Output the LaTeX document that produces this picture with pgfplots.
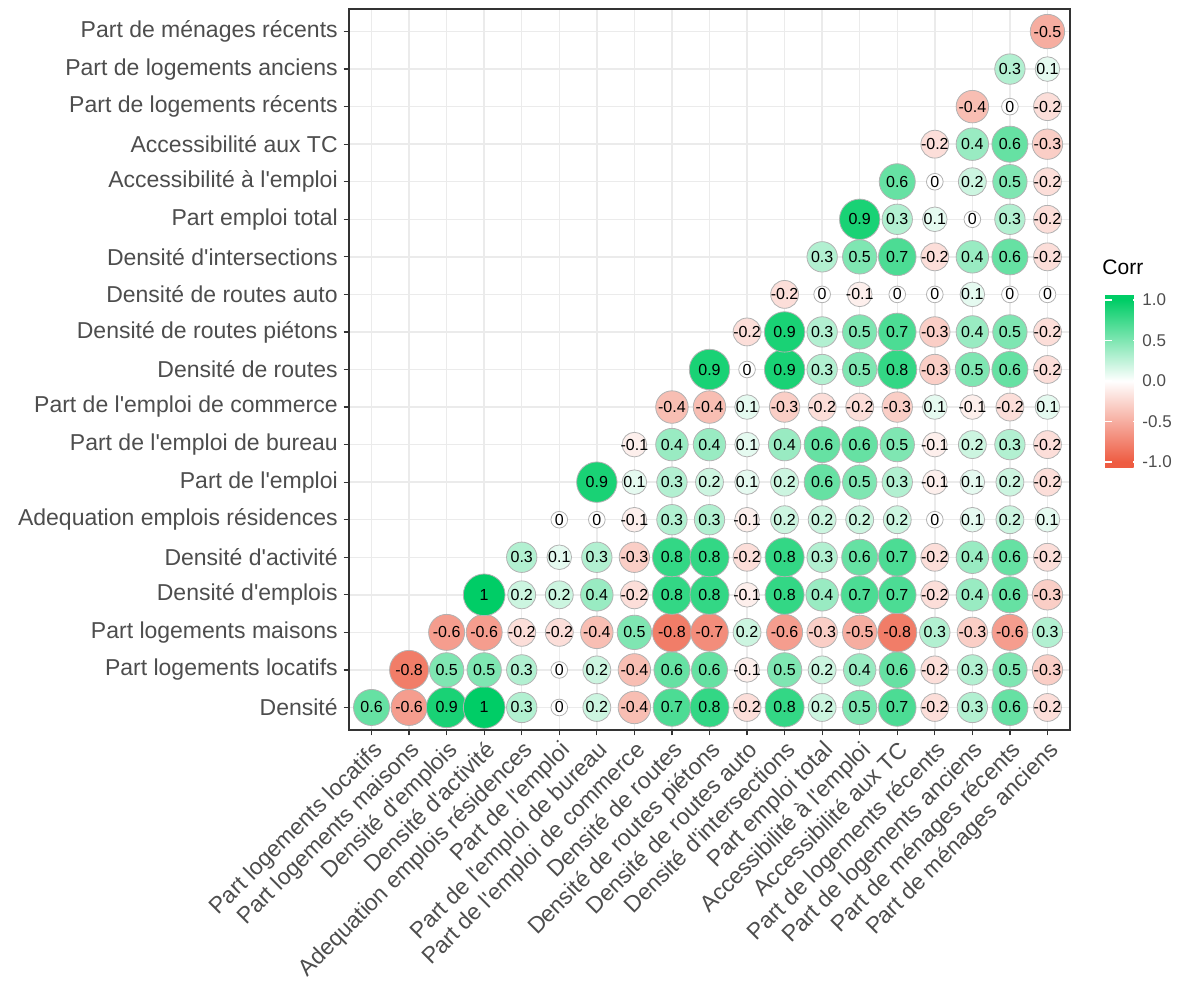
\documentclass[border=0pt]{standalone}
\usepackage{pgfplots}
\pgfplotsset{compat=1.18}
\usepackage{pgfplotstable}
\usepackage{fontspec}
\setmainfont{Liberation Sans}[Ligatures=TeXOff]
\definecolor{gridc}{RGB}{235,235,235}
\definecolor{txt}{RGB}{77,77,77}
\definecolor{bord}{RGB}{51,51,51}

\pgfplotstableread{
x y v
1 1 0.6
2 1 -0.6
3 1 0.9
4 1 1
5 1 0.3
6 1 0
7 1 0.2
8 1 -0.4
9 1 0.7
10 1 0.8
11 1 -0.2
12 1 0.8
13 1 0.2
14 1 0.5
15 1 0.7
16 1 -0.2
17 1 0.3
18 1 0.6
19 1 -0.2
2 2 -0.8
3 2 0.5
4 2 0.5
5 2 0.3
6 2 0
7 2 0.2
8 2 -0.4
9 2 0.6
10 2 0.6
11 2 -0.1
12 2 0.5
13 2 0.2
14 2 0.4
15 2 0.6
16 2 -0.2
17 2 0.3
18 2 0.5
19 2 -0.3
3 3 -0.6
4 3 -0.6
5 3 -0.2
6 3 -0.2
7 3 -0.4
8 3 0.5
9 3 -0.8
10 3 -0.7
11 3 0.2
12 3 -0.6
13 3 -0.3
14 3 -0.5
15 3 -0.8
16 3 0.3
17 3 -0.3
18 3 -0.6
19 3 0.3
4 4 1
5 4 0.2
6 4 0.2
7 4 0.4
8 4 -0.2
9 4 0.8
10 4 0.8
11 4 -0.1
12 4 0.8
13 4 0.4
14 4 0.7
15 4 0.7
16 4 -0.2
17 4 0.4
18 4 0.6
19 4 -0.3
5 5 0.3
6 5 0.1
7 5 0.3
8 5 -0.3
9 5 0.8
10 5 0.8
11 5 -0.2
12 5 0.8
13 5 0.3
14 5 0.6
15 5 0.7
16 5 -0.2
17 5 0.4
18 5 0.6
19 5 -0.2
6 6 0
7 6 0
8 6 -0.1
9 6 0.3
10 6 0.3
11 6 -0.1
12 6 0.2
13 6 0.2
14 6 0.2
15 6 0.2
16 6 0
17 6 0.1
18 6 0.2
19 6 0.1
7 7 0.9
8 7 0.1
9 7 0.3
10 7 0.2
11 7 0.1
12 7 0.2
13 7 0.6
14 7 0.5
15 7 0.3
16 7 -0.1
17 7 0.1
18 7 0.2
19 7 -0.2
8 8 -0.1
9 8 0.4
10 8 0.4
11 8 0.1
12 8 0.4
13 8 0.6
14 8 0.6
15 8 0.5
16 8 -0.1
17 8 0.2
18 8 0.3
19 8 -0.2
9 9 -0.4
10 9 -0.4
11 9 0.1
12 9 -0.3
13 9 -0.2
14 9 -0.2
15 9 -0.3
16 9 0.1
17 9 -0.1
18 9 -0.2
19 9 0.1
10 10 0.9
11 10 0
12 10 0.9
13 10 0.3
14 10 0.5
15 10 0.8
16 10 -0.3
17 10 0.5
18 10 0.6
19 10 -0.2
11 11 -0.2
12 11 0.9
13 11 0.3
14 11 0.5
15 11 0.7
16 11 -0.3
17 11 0.4
18 11 0.5
19 11 -0.2
12 12 -0.2
13 12 0
14 12 -0.1
15 12 0
16 12 0
17 12 0.1
18 12 0
19 12 0
13 13 0.3
14 13 0.5
15 13 0.7
16 13 -0.2
17 13 0.4
18 13 0.6
19 13 -0.2
14 14 0.9
15 14 0.3
16 14 0.1
17 14 0
18 14 0.3
19 14 -0.2
15 15 0.6
16 15 0
17 15 0.2
18 15 0.5
19 15 -0.2
16 16 -0.2
17 16 0.4
18 16 0.6
19 16 -0.3
17 17 -0.4
18 17 0
19 17 -0.2
18 18 0.3
19 18 0.1
19 19 -0.5
}\corrdata

\begin{document}
\begin{tikzpicture}
\begin{axis}[
  name=main,
  at={(0,0)}, anchor=south west,
  scale only axis, width=360.5pt, height=360.5pt,
  xmin=0.4, xmax=19.6, ymin=0.4, ymax=19.6,
  xtick={1,...,19}, ytick={1,...,19},
  xticklabels={Part logements locatifs,Part logements maisons,Densité d'emplois,Densité d'activité,Adequation emplois résidences,Part de l'emploi,Part de l'emploi de bureau,Part de l'emploi de commerce,Densité de routes,Densité de routes piétons,Densité de routes auto,Densité d'intersections,Part emploi total,Accessibilité à l'emploi,Accessibilité aux TC,Part de logements récents,Part de logements anciens,Part de ménages récents,Part de ménages anciens},
  yticklabels={Densité,Part logements locatifs,Part logements maisons,Densité d'emplois,Densité d'activité,Adequation emplois résidences,Part de l'emploi,Part de l'emploi de bureau,Part de l'emploi de commerce,Densité de routes,Densité de routes piétons,Densité de routes auto,Densité d'intersections,Part emploi total,Accessibilité à l'emploi,Accessibilité aux TC,Part de logements récents,Part de logements anciens,Part de ménages récents},
  grid=major, major grid style={gridc, line width=0.7pt},
  axis line style={bord, line width=0.6pt},
  tick align=outside, tick pos=left, major tick length=2.65pt,
  tick style={bord, line width=0.6pt},
  xticklabel style={rotate=45, anchor=north east, font=\fontsize{11.5}{13}\selectfont, text=txt, inner sep=1.3pt},
  yticklabel style={font=\fontsize{11.5}{13}\selectfont, text=txt, inner sep=2.8pt},
  colormap={corr}{rgb255(0)=(238,92,66) rgb255(74)=(238,92,66) rgb255(1074)=(255,255,255) rgb255(2074)=(0,205,102) rgb255(2148)=(0,205,102)},
  point meta min=-1.074, point meta max=1.074,
  colorbar,
  colorbar style={
    at={(parent axis.south east)}, anchor=south west,
    xshift=9pt, yshift=131pt,
    scale only axis, width=17.5pt, height=87pt,
    ytick={-1,-0.5,0,0.5,1},
    yticklabels={-1.0,-0.5,0.0,0.5,1.0},
    yticklabel style={font=\fontsize{8.5}{10}\selectfont, text=txt, inner sep=1pt},
    axis line style={draw=none},
    ytick style={white, line width=0.6pt},
    major tick length=3.5pt, tick align=inside, ytick pos=both, yticklabel pos=right,
    title={Corr},
    title style={at={(0,1)}, anchor=base west, yshift=3.5pt, xshift=-1.5pt, inner sep=0pt, font=\fontsize{10.5}{12}\selectfont},
  },
]
\addplot[scatter, only marks, mark=*,
  scatter src=explicit,
  scatter/use mapped color={draw=gray!60, fill=mapped color},
  visualization depends on={10.42*(0.4+0.6*sqrt(abs(\thisrow{v}))) \as \msize},
  scatter/@pre marker code/.append style={/tikz/mark size=\msize},
  mark options={line width=0.4pt}]
  table[x=x, y=y, meta=v] {\corrdata};
\addplot[draw=none, mark=none, point meta=explicit symbolic,
  nodes near coords,
  every node near coord/.append style={font=\fontsize{8}{9}\selectfont, text=black, inner sep=0pt, anchor=center}]
  table[x=x, y=y, meta=v] {\corrdata};
\end{axis}
\pgfresetboundingbox
\path[use as bounding box] (-174.5pt,-129.5pt) rectangle (416.5pt,365pt);
\end{tikzpicture}
\end{document}
